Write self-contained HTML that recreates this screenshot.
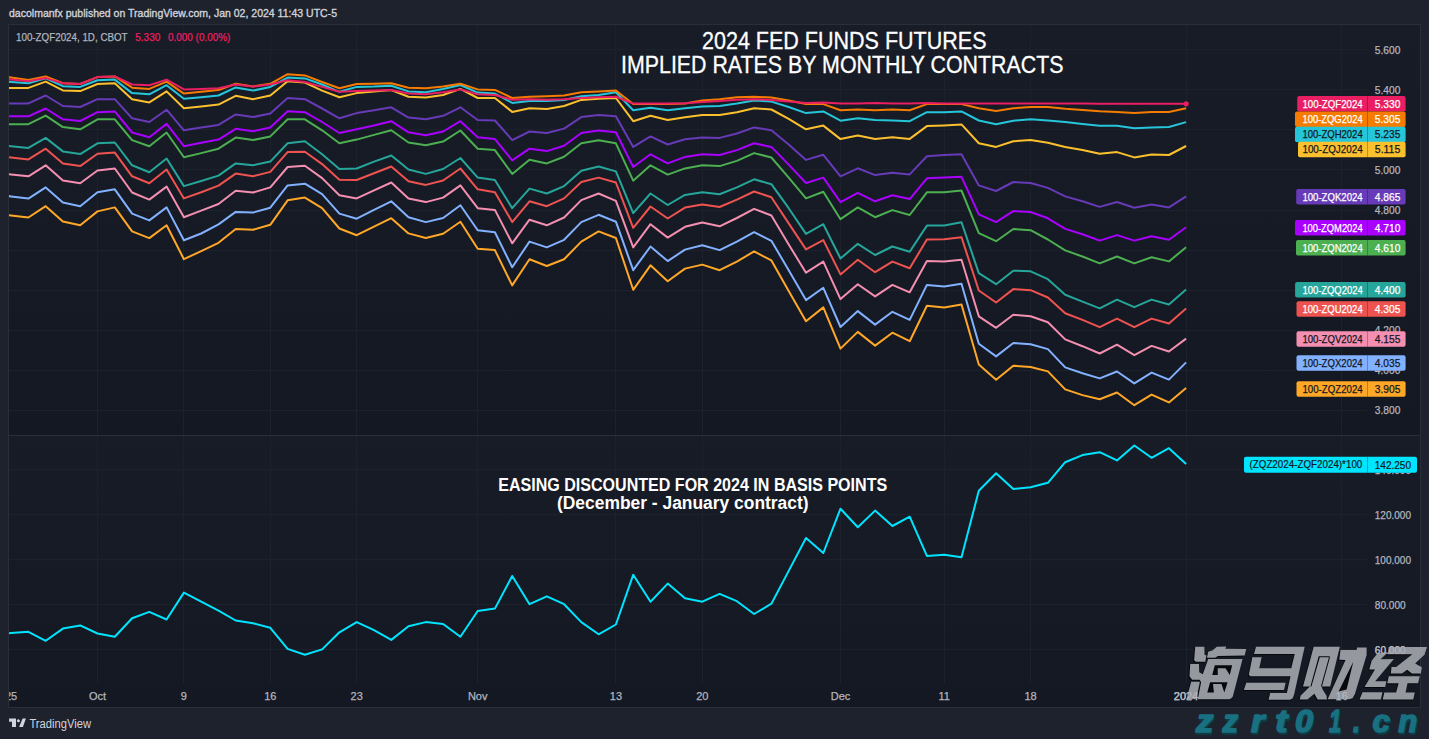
<!DOCTYPE html><html><head><meta charset="utf-8"><style>
html,body{margin:0;padding:0;background:#1e222d;width:1429px;height:739px;overflow:hidden}
svg{position:absolute;left:0;top:0}
text{font-family:"Liberation Sans",sans-serif}
.b{stroke:currentColor;stroke-width:0.3}
</style></head><body>
<svg width="1429" height="739" viewBox="0 0 1429 739">
<defs>
<linearGradient id="bg1" x1="0" y1="0" x2="0" y2="1"><stop offset="0" stop-color="#181c27"/><stop offset="1" stop-color="#141822"/></linearGradient>
<linearGradient id="bg2" x1="0" y1="0" x2="0" y2="1"><stop offset="0" stop-color="#181c27"/><stop offset="1" stop-color="#141822"/></linearGradient>
<clipPath id="c1"><rect x="9" y="25" width="1358" height="410"/></clipPath>
<clipPath id="c2"><rect x="9" y="436" width="1358" height="247"/></clipPath>
<clipPath id="c3"><rect x="9" y="683" width="1411" height="24"/></clipPath>
</defs>
<rect x="0" y="0" width="1429" height="739" fill="#1e222d"/>

<text x="9" y="17.2" font-size="11.3" fill="#d1d4dc" stroke="#d1d4dc" stroke-width="0.35" textLength="328" lengthAdjust="spacingAndGlyphs">dacolmanfx published on TradingView.com, Jan 02, 2024 11:43 UTC-5</text>
<rect x="8.5" y="24.5" width="1412" height="683" fill="none" stroke="#2a2e39" stroke-width="1"/>
<rect x="9" y="25" width="1411" height="410" fill="url(#bg1)"/>
<rect x="9" y="436" width="1411" height="271" fill="url(#bg2)"/>
<rect x="9" y="435" width="1411" height="1" fill="#2a2e39"/>
<line x1="9" y1="49.5" x2="1367" y2="49.5" stroke="#1d212c" stroke-width="1"/>
<line x1="9" y1="89.5" x2="1367" y2="89.5" stroke="#1d212c" stroke-width="1"/>
<line x1="9" y1="129.5" x2="1367" y2="129.5" stroke="#1d212c" stroke-width="1"/>
<line x1="9" y1="169.5" x2="1367" y2="169.5" stroke="#1d212c" stroke-width="1"/>
<line x1="9" y1="210.5" x2="1367" y2="210.5" stroke="#1d212c" stroke-width="1"/>
<line x1="9" y1="250.5" x2="1367" y2="250.5" stroke="#1d212c" stroke-width="1"/>
<line x1="9" y1="290.5" x2="1367" y2="290.5" stroke="#1d212c" stroke-width="1"/>
<line x1="9" y1="330.5" x2="1367" y2="330.5" stroke="#1d212c" stroke-width="1"/>
<line x1="9" y1="370.5" x2="1367" y2="370.5" stroke="#1d212c" stroke-width="1"/>
<line x1="9" y1="410.5" x2="1367" y2="410.5" stroke="#1d212c" stroke-width="1"/>
<line x1="9" y1="469.5" x2="1367" y2="469.5" stroke="#1d212c" stroke-width="1"/>
<line x1="9" y1="514.5" x2="1367" y2="514.5" stroke="#1d212c" stroke-width="1"/>
<line x1="9" y1="559.5" x2="1367" y2="559.5" stroke="#1d212c" stroke-width="1"/>
<line x1="9" y1="604.5" x2="1367" y2="604.5" stroke="#1d212c" stroke-width="1"/>
<line x1="9" y1="649.5" x2="1367" y2="649.5" stroke="#1d212c" stroke-width="1"/>
<line x1="97.5" y1="25" x2="97.5" y2="435" stroke="#1d212c" stroke-width="1" clip-path="url(#c1)"/>
<line x1="97.5" y1="436" x2="97.5" y2="683" stroke="#1d212c" stroke-width="1" clip-path="url(#c2)"/>
<line x1="183.5" y1="25" x2="183.5" y2="435" stroke="#1d212c" stroke-width="1" clip-path="url(#c1)"/>
<line x1="183.5" y1="436" x2="183.5" y2="683" stroke="#1d212c" stroke-width="1" clip-path="url(#c2)"/>
<line x1="270.5" y1="25" x2="270.5" y2="435" stroke="#1d212c" stroke-width="1" clip-path="url(#c1)"/>
<line x1="270.5" y1="436" x2="270.5" y2="683" stroke="#1d212c" stroke-width="1" clip-path="url(#c2)"/>
<line x1="356.5" y1="25" x2="356.5" y2="435" stroke="#1d212c" stroke-width="1" clip-path="url(#c1)"/>
<line x1="356.5" y1="436" x2="356.5" y2="683" stroke="#1d212c" stroke-width="1" clip-path="url(#c2)"/>
<line x1="477.5" y1="25" x2="477.5" y2="435" stroke="#1d212c" stroke-width="1" clip-path="url(#c1)"/>
<line x1="477.5" y1="436" x2="477.5" y2="683" stroke="#1d212c" stroke-width="1" clip-path="url(#c2)"/>
<line x1="615.5" y1="25" x2="615.5" y2="435" stroke="#1d212c" stroke-width="1" clip-path="url(#c1)"/>
<line x1="615.5" y1="436" x2="615.5" y2="683" stroke="#1d212c" stroke-width="1" clip-path="url(#c2)"/>
<line x1="702.5" y1="25" x2="702.5" y2="435" stroke="#1d212c" stroke-width="1" clip-path="url(#c1)"/>
<line x1="702.5" y1="436" x2="702.5" y2="683" stroke="#1d212c" stroke-width="1" clip-path="url(#c2)"/>
<line x1="840.5" y1="25" x2="840.5" y2="435" stroke="#1d212c" stroke-width="1" clip-path="url(#c1)"/>
<line x1="840.5" y1="436" x2="840.5" y2="683" stroke="#1d212c" stroke-width="1" clip-path="url(#c2)"/>
<line x1="944.5" y1="25" x2="944.5" y2="435" stroke="#1d212c" stroke-width="1" clip-path="url(#c1)"/>
<line x1="944.5" y1="436" x2="944.5" y2="683" stroke="#1d212c" stroke-width="1" clip-path="url(#c2)"/>
<line x1="1030.5" y1="25" x2="1030.5" y2="435" stroke="#1d212c" stroke-width="1" clip-path="url(#c1)"/>
<line x1="1030.5" y1="436" x2="1030.5" y2="683" stroke="#1d212c" stroke-width="1" clip-path="url(#c2)"/>
<line x1="1186.5" y1="25" x2="1186.5" y2="435" stroke="#1d212c" stroke-width="1" clip-path="url(#c1)"/>
<line x1="1186.5" y1="436" x2="1186.5" y2="683" stroke="#1d212c" stroke-width="1" clip-path="url(#c2)"/>
<line x1="1341.5" y1="25" x2="1341.5" y2="435" stroke="#1d212c" stroke-width="1" clip-path="url(#c1)"/>
<line x1="1341.5" y1="436" x2="1341.5" y2="683" stroke="#1d212c" stroke-width="1" clip-path="url(#c2)"/>
<text x="11.1" y="700" font-size="11" fill="#b2b5be" stroke="#b2b5be" stroke-width="0.25" text-anchor="middle" clip-path="url(#c3)">25</text>
<text x="97.5" y="700" font-size="11" fill="#b2b5be" stroke="#b2b5be" stroke-width="0.25" text-anchor="middle" clip-path="url(#c3)">Oct</text>
<text x="183.9" y="700" font-size="11" fill="#b2b5be" stroke="#b2b5be" stroke-width="0.25" text-anchor="middle" clip-path="url(#c3)">9</text>
<text x="270.3" y="700" font-size="11" fill="#b2b5be" stroke="#b2b5be" stroke-width="0.25" text-anchor="middle" clip-path="url(#c3)">16</text>
<text x="356.7" y="700" font-size="11" fill="#b2b5be" stroke="#b2b5be" stroke-width="0.25" text-anchor="middle" clip-path="url(#c3)">23</text>
<text x="477.7" y="700" font-size="11" fill="#b2b5be" stroke="#b2b5be" stroke-width="0.25" text-anchor="middle" clip-path="url(#c3)">Nov</text>
<text x="615.9" y="700" font-size="11" fill="#b2b5be" stroke="#b2b5be" stroke-width="0.25" text-anchor="middle" clip-path="url(#c3)">13</text>
<text x="702.3" y="700" font-size="11" fill="#b2b5be" stroke="#b2b5be" stroke-width="0.25" text-anchor="middle" clip-path="url(#c3)">20</text>
<text x="840.5" y="700" font-size="11" fill="#b2b5be" stroke="#b2b5be" stroke-width="0.25" text-anchor="middle" clip-path="url(#c3)">Dec</text>
<text x="944.2" y="700" font-size="11" fill="#b2b5be" stroke="#b2b5be" stroke-width="0.25" text-anchor="middle" clip-path="url(#c3)">11</text>
<text x="1030.6" y="700" font-size="11" fill="#b2b5be" stroke="#b2b5be" stroke-width="0.25" text-anchor="middle" clip-path="url(#c3)">18</text>
<text x="1186.1" y="700" font-size="11" fill="#b2b5be" stroke="#b2b5be" stroke-width="0.25" text-anchor="middle" clip-path="url(#c3)">2024</text>
<text x="1341.7" y="700" font-size="11" fill="#b2b5be" stroke="#b2b5be" stroke-width="0.25" text-anchor="middle" clip-path="url(#c3)">16</text>
<g clip-path="url(#c1)" fill="none" stroke-width="2" stroke-linejoin="round">
<polyline points="-6.2,213.5 11.1,215.5 28.4,217.5 45.7,206.2 62.9,221.4 80.2,225.3 97.5,211.4 114.8,207.4 132.1,231.4 149.3,238.1 166.6,225.3 183.9,259.2 201.2,251.1 218.5,242.8 235.7,229.0 253.0,229.7 270.3,224.8 287.6,200.3 304.9,197.6 322.1,208.2 339.4,228.5 356.7,235.2 374.0,226.7 391.3,218.2 408.5,233.4 425.8,238.0 443.1,233.7 460.4,221.7 477.7,248.7 494.9,250.1 512.2,285.4 529.5,259.2 546.8,266.0 564.1,259.2 581.3,241.6 598.6,231.4 615.9,238.0 633.2,289.8 650.5,265.3 667.7,281.2 685.0,268.6 702.3,264.6 719.6,270.2 736.9,261.6 754.1,251.4 771.4,260.4 788.7,291.0 806.0,321.2 823.3,307.4 840.5,348.6 857.8,331.9 875.1,345.6 892.4,332.7 909.7,341.2 926.9,305.7 944.2,307.4 961.5,304.5 978.8,364.5 996.1,379.7 1013.3,365.7 1030.6,367.0 1047.9,371.4 1065.2,389.4 1082.5,395.1 1099.7,399.2 1117.0,392.5 1134.3,405.2 1151.6,394.6 1168.9,402.4 1186.1,388.1" stroke="#ffa726"/>
<polyline points="-6.2,194.2 11.1,196.4 28.4,198.6 45.7,187.4 62.9,202.5 80.2,206.2 97.5,192.3 114.8,189.3 132.1,213.6 149.3,220.4 166.6,207.4 183.9,240.3 201.2,233.5 218.5,224.4 235.7,211.9 253.0,212.6 270.3,207.7 287.6,185.4 304.9,183.7 322.1,194.2 339.4,213.6 356.7,218.7 374.0,209.9 391.3,201.3 408.5,217.2 425.8,222.1 443.1,218.0 460.4,205.2 477.7,230.2 494.9,232.2 512.2,267.3 529.5,241.6 546.8,247.4 564.1,239.8 581.3,222.1 598.6,214.8 615.9,221.7 633.2,270.2 650.5,246.5 667.7,261.1 685.0,249.6 702.3,245.2 719.6,250.1 736.9,241.6 754.1,232.2 771.4,240.8 788.7,270.2 806.0,300.1 823.3,287.8 840.5,327.0 857.8,311.1 875.1,324.6 892.4,311.8 909.7,319.9 926.9,284.9 944.2,286.6 961.5,283.7 978.8,343.7 996.1,356.4 1013.3,343.0 1030.6,344.3 1047.9,349.1 1065.2,367.4 1082.5,373.2 1099.7,378.4 1117.0,371.5 1134.3,383.4 1151.6,372.6 1168.9,379.6 1186.1,362.4" stroke="#82b1ff"/>
<polyline points="-6.2,172.5 11.1,174.4 28.4,176.3 45.7,165.3 62.9,180.5 80.2,183.2 97.5,170.5 114.8,168.5 132.1,192.5 149.3,199.6 166.6,186.6 183.9,217.2 201.2,210.6 218.5,204.0 235.7,190.8 253.0,192.5 270.3,187.4 287.6,167.0 304.9,165.8 322.1,178.1 339.4,195.2 356.7,198.4 374.0,190.3 391.3,182.5 408.5,198.4 425.8,202.1 443.1,197.6 460.4,185.4 477.7,208.2 494.9,209.9 512.2,243.3 529.5,219.7 546.8,225.3 564.1,217.5 581.3,200.1 598.6,193.5 615.9,200.8 633.2,247.4 650.5,224.2 667.7,237.6 685.0,226.8 702.3,222.5 719.6,226.3 736.9,218.0 754.1,208.9 771.4,215.5 788.7,244.5 806.0,272.7 823.3,261.6 840.5,299.1 857.8,284.2 875.1,296.4 892.4,284.9 909.7,292.3 926.9,261.1 944.2,261.6 961.5,259.7 978.8,316.3 996.1,327.8 1013.3,314.8 1030.6,316.2 1047.9,322.3 1065.2,339.4 1082.5,346.2 1099.7,353.5 1117.0,344.7 1134.3,355.2 1151.6,345.9 1168.9,351.5 1186.1,338.6" stroke="#f48fb1"/>
<polyline points="-6.2,155.6 11.1,157.5 28.4,159.4 45.7,148.7 62.9,163.4 80.2,166.1 97.5,153.8 114.8,152.6 132.1,176.3 149.3,183.2 166.6,169.5 183.9,198.4 201.2,192.3 218.5,185.6 235.7,173.6 253.0,176.3 270.3,171.9 287.6,152.1 304.9,151.8 322.1,164.1 339.4,179.8 356.7,180.0 374.0,173.2 391.3,166.5 408.5,181.2 425.8,184.9 443.1,180.5 460.4,168.5 477.7,189.3 494.9,192.3 512.2,222.1 529.5,201.3 546.8,206.2 564.1,198.4 581.3,182.0 598.6,177.6 615.9,182.5 633.2,227.8 650.5,206.5 667.7,218.5 685.0,207.6 702.3,204.5 719.6,207.0 736.9,199.6 754.1,191.5 771.4,197.2 788.7,223.4 806.0,249.4 823.3,240.1 840.5,274.4 857.8,259.7 875.1,272.2 892.4,261.6 909.7,268.3 926.9,239.4 944.2,239.2 961.5,237.2 978.8,290.5 996.1,302.5 1013.3,289.1 1030.6,290.2 1047.9,297.5 1065.2,313.3 1082.5,319.9 1099.7,327.2 1117.0,318.6 1134.3,327.2 1151.6,318.6 1168.9,323.5 1186.1,308.4" stroke="#ef5350"/>
<polyline points="-6.2,144.5 11.1,146.2 28.4,147.9 45.7,137.9 62.9,151.4 80.2,154.1 97.5,143.3 114.8,142.5 132.1,165.3 149.3,172.2 166.6,158.5 183.9,186.1 201.2,181.0 218.5,175.6 235.7,163.4 253.0,165.3 270.3,161.6 287.6,143.3 304.9,141.3 322.1,154.3 339.4,169.0 356.7,168.5 374.0,161.6 391.3,155.5 408.5,169.5 425.8,173.9 443.1,169.0 460.4,158.0 477.7,177.6 494.9,180.0 512.2,208.2 529.5,188.6 546.8,193.5 564.1,186.1 581.3,170.7 598.6,166.5 615.9,171.4 633.2,213.1 650.5,193.5 667.7,205.0 685.0,194.9 702.3,192.3 719.6,194.2 736.9,187.4 754.1,179.3 771.4,184.2 788.7,208.2 806.0,233.9 823.3,224.2 840.5,258.5 857.8,243.8 875.1,255.0 892.4,246.5 909.7,251.8 926.9,225.6 944.2,225.6 961.5,222.2 978.8,273.1 996.1,284.2 1013.3,270.7 1030.6,271.3 1047.9,279.2 1065.2,294.8 1082.5,301.6 1099.7,308.4 1117.0,299.6 1134.3,307.2 1151.6,299.6 1168.9,304.5 1186.1,289.4" stroke="#26a69a"/>
<polyline points="-6.2,124.2 11.1,124.2 28.4,124.2 45.7,115.6 62.9,127.1 80.2,129.3 97.5,119.3 114.8,119.3 132.1,140.1 149.3,146.2 166.6,132.5 183.9,157.2 201.2,153.1 218.5,148.7 235.7,137.6 253.0,140.1 270.3,136.4 287.6,119.3 304.9,119.3 322.1,130.3 339.4,143.3 356.7,139.6 374.0,134.9 391.3,130.3 408.5,142.5 425.8,145.2 443.1,141.6 460.4,130.5 477.7,148.7 494.9,150.1 512.2,173.9 529.5,159.7 546.8,163.4 564.1,156.7 581.3,143.3 598.6,140.3 615.9,143.3 633.2,180.7 650.5,165.3 667.7,174.6 685.0,168.4 702.3,165.3 719.6,166.1 736.9,160.9 754.1,153.1 771.4,157.5 788.7,177.6 806.0,198.4 823.3,191.8 840.5,219.2 857.8,207.4 875.1,217.2 892.4,210.1 909.7,215.0 926.9,192.3 944.2,192.3 961.5,190.5 978.8,233.2 996.1,241.2 1013.3,229.0 1030.6,230.2 1047.9,239.5 1065.2,250.4 1082.5,256.5 1099.7,263.4 1117.0,256.5 1134.3,263.4 1151.6,257.3 1168.9,261.4 1186.1,247.3" stroke="#4caf50"/>
<polyline points="-6.2,116.3 11.1,116.3 28.4,116.3 45.7,108.5 62.9,119.3 80.2,121.0 97.5,112.2 114.8,111.4 132.1,132.5 149.3,137.2 166.6,123.9 183.9,146.2 201.2,142.8 218.5,139.6 235.7,128.8 253.0,131.3 270.3,127.4 287.6,111.2 304.9,112.2 322.1,122.0 339.4,133.0 356.7,129.3 374.0,125.4 391.3,121.2 408.5,132.3 425.8,135.2 443.1,131.5 460.4,121.2 477.7,137.2 494.9,139.1 512.2,160.4 529.5,148.7 546.8,151.1 564.1,145.7 581.3,133.0 598.6,130.5 615.9,132.3 633.2,167.0 650.5,154.3 667.7,163.4 685.0,156.9 702.3,154.3 719.6,155.0 736.9,150.1 754.1,143.3 771.4,146.9 788.7,164.6 806.0,183.0 823.3,177.6 840.5,202.1 857.8,192.8 875.1,201.3 892.4,195.2 909.7,199.1 926.9,178.3 944.2,177.6 961.5,176.8 978.8,214.3 996.1,222.1 1013.3,211.1 1030.6,212.0 1047.9,218.3 1065.2,228.9 1082.5,234.2 1099.7,240.6 1117.0,235.1 1134.3,240.6 1151.6,236.2 1168.9,239.8 1186.1,227.3" stroke="#aa00ff"/>
<polyline points="-6.2,103.4 11.1,103.4 28.4,103.4 45.7,95.5 62.9,106.0 80.2,107.0 97.5,99.2 114.8,99.2 132.1,118.3 149.3,122.0 166.6,109.7 183.9,130.3 201.2,127.6 218.5,124.9 235.7,114.4 253.0,117.1 270.3,113.4 287.6,98.0 304.9,99.2 322.1,108.5 339.4,118.3 356.7,113.1 374.0,110.2 391.3,107.3 408.5,117.6 425.8,119.3 443.1,115.8 460.4,107.3 477.7,120.0 494.9,120.5 512.2,140.1 529.5,131.5 546.8,133.0 564.1,128.6 581.3,117.1 598.6,115.1 615.9,116.3 633.2,146.9 650.5,136.4 667.7,144.5 685.0,139.2 702.3,137.6 719.6,137.9 736.9,133.5 754.1,127.4 771.4,130.3 788.7,144.5 806.0,159.9 823.3,154.8 840.5,176.3 857.8,168.3 875.1,175.1 892.4,172.7 909.7,174.4 926.9,156.3 944.2,155.0 961.5,154.3 978.8,185.4 996.1,191.0 1013.3,182.0 1030.6,183.0 1047.9,187.9 1065.2,196.4 1082.5,201.3 1099.7,206.9 1117.0,202.0 1134.3,207.8 1151.6,204.4 1168.9,207.4 1186.1,196.4" stroke="#673ab7"/>
<polyline points="-6.2,87.9 11.1,87.9 28.4,87.9 45.7,81.6 62.9,90.4 80.2,91.1 97.5,84.0 114.8,83.3 132.1,99.2 149.3,102.4 166.6,91.4 183.9,108.3 201.2,106.5 218.5,104.6 235.7,95.8 253.0,99.2 270.3,95.5 287.6,81.3 304.9,82.5 322.1,90.6 339.4,97.2 356.7,93.1 374.0,91.4 391.3,90.1 408.5,96.7 425.8,97.5 443.1,95.0 460.4,88.9 477.7,98.0 494.9,98.0 512.2,111.9 529.5,108.3 546.8,109.0 564.1,106.0 581.3,99.9 598.6,98.7 615.9,98.0 633.2,121.2 650.5,115.8 667.7,120.0 685.0,117.2 702.3,115.1 719.6,115.1 736.9,112.2 754.1,108.3 771.4,109.5 788.7,118.8 806.0,129.3 823.3,125.6 840.5,139.1 857.8,135.4 875.1,138.9 892.4,137.2 909.7,138.9 926.9,126.1 944.2,125.4 961.5,124.4 978.8,143.3 996.1,146.9 1013.3,141.3 1030.6,140.1 1047.9,142.8 1065.2,147.0 1082.5,150.1 1099.7,153.8 1117.0,152.1 1134.3,157.4 1151.6,154.5 1168.9,155.0 1186.1,146.0" stroke="#fbc02d"/>
<polyline points="-6.2,80.7 11.1,82.0 28.4,83.3 45.7,78.4 62.9,86.2 80.2,86.9 97.5,80.3 114.8,79.6 132.1,93.1 149.3,94.3 166.6,85.2 183.9,98.7 201.2,97.2 218.5,95.5 235.7,87.4 253.0,90.6 270.3,86.9 287.6,77.6 304.9,78.4 322.1,84.5 339.4,91.8 356.7,86.9 374.0,86.5 391.3,85.7 408.5,91.4 425.8,92.3 443.1,88.9 460.4,85.0 477.7,92.6 494.9,93.6 512.2,102.9 529.5,100.9 546.8,101.1 564.1,99.9 581.3,96.2 598.6,95.0 615.9,92.3 633.2,110.2 650.5,107.8 667.7,110.2 685.0,108.3 702.3,106.5 719.6,106.0 736.9,103.4 754.1,100.4 771.4,101.6 788.7,107.0 806.0,113.1 823.3,111.4 840.5,120.7 857.8,118.3 875.1,120.0 892.4,120.5 909.7,121.2 926.9,112.2 944.2,112.2 961.5,111.4 978.8,120.5 996.1,124.2 1013.3,120.7 1030.6,119.2 1047.9,120.4 1065.2,122.1 1082.5,124.1 1099.7,125.8 1117.0,125.8 1134.3,128.2 1151.6,127.5 1168.9,127.0 1186.1,122.1" stroke="#26c6da"/>
<polyline points="-6.2,75.1 11.1,77.6 28.4,80.1 45.7,76.4 62.9,83.3 80.2,84.0 97.5,77.1 114.8,76.4 132.1,87.7 149.3,88.9 166.6,81.6 183.9,93.6 201.2,91.8 218.5,90.1 235.7,83.8 253.0,86.5 270.3,83.8 287.6,74.2 304.9,75.4 322.1,82.0 339.4,88.2 356.7,84.0 374.0,83.8 391.3,83.3 408.5,87.7 425.8,88.2 443.1,86.5 460.4,83.8 477.7,89.4 494.9,89.9 512.2,98.0 529.5,96.7 546.8,96.2 564.1,95.5 581.3,92.3 598.6,91.4 615.9,90.6 633.2,104.0 650.5,104.0 667.7,104.0 685.0,103.6 702.3,100.4 719.6,99.2 736.9,97.2 754.1,96.7 771.4,97.5 788.7,100.4 806.0,104.1 823.3,104.1 840.5,110.2 857.8,109.5 875.1,110.2 892.4,109.5 909.7,110.2 926.9,104.1 944.2,104.1 961.5,104.1 978.8,108.3 996.1,110.9 1013.3,108.3 1030.6,107.0 1047.9,107.0 1065.2,108.7 1082.5,109.9 1099.7,111.2 1117.0,111.9 1134.3,113.1 1151.6,111.9 1168.9,111.9 1186.1,108.2" stroke="#f57c00"/>
<polyline points="-6.2,77.9 11.1,79.6 28.4,81.3 45.7,78.1 62.9,83.3 80.2,84.0 97.5,77.1 114.8,76.4 132.1,84.5 149.3,85.2 166.6,79.6 183.9,89.4 201.2,88.9 218.5,88.2 235.7,84.5 253.0,86.5 270.3,84.5 287.6,80.3 304.9,82.0 322.1,86.9 339.4,91.8 356.7,91.1 374.0,90.6 391.3,89.9 408.5,93.6 425.8,94.3 443.1,92.3 460.4,89.4 477.7,94.3 494.9,95.0 512.2,99.7 529.5,99.2 546.8,99.7 564.1,99.2 581.3,98.0 598.6,97.2 615.9,96.7 633.2,103.6 650.5,103.6 667.7,103.6 685.0,103.2 702.3,102.1 719.6,101.1 736.9,99.7 754.1,99.2 771.4,99.9 788.7,101.6 806.0,102.9 823.3,102.4 840.5,103.4 857.8,103.4 875.1,102.9 892.4,103.6 909.7,103.4 926.9,102.9 944.2,103.4 961.5,103.4 978.8,103.4 996.1,103.6 1013.3,103.6 1030.6,103.5 1047.9,103.4 1065.2,103.4 1082.5,103.4 1099.7,103.8 1117.0,103.8 1134.3,103.8 1151.6,103.8 1168.9,103.8 1186.1,103.8" stroke="#e91e63"/>
<circle cx="1186.1" cy="103.8" r="2.6" fill="#e91e63"/>
</g>
<g clip-path="url(#c2)" fill="none" stroke-width="2" stroke-linejoin="round">
<polyline points="-6.2,634.2 11.1,633.0 28.4,631.8 45.7,640.8 62.9,628.6 80.2,625.4 97.5,633.5 114.8,636.7 132.1,618.3 149.3,611.9 166.6,619.5 183.9,592.6 201.2,601.6 218.5,610.7 235.7,620.5 253.0,623.2 270.3,627.8 287.6,648.9 304.9,654.8 322.1,649.4 339.4,632.3 356.7,622.1 374.0,630.1 391.3,639.9 408.5,626.2 425.8,622.1 443.1,624.0 460.4,636.7 477.7,611.0 494.9,608.6 512.2,576.0 529.5,604.2 546.8,596.3 564.1,604.2 581.3,622.1 598.6,634.3 615.9,624.5 633.2,574.8 650.5,601.7 667.7,583.6 685.0,598.3 702.3,601.7 719.6,593.9 736.9,601.2 754.1,614.0 771.4,603.7 788.7,570.9 806.0,538.0 823.3,553.0 840.5,508.7 857.8,527.3 875.1,510.6 892.4,526.0 909.7,516.7 926.9,555.9 944.2,554.7 961.5,557.2 978.8,490.7 996.1,473.3 1013.3,489.1 1030.6,487.3 1047.9,482.8 1065.2,462.2 1082.5,455.1 1099.7,452.2 1117.0,460.4 1134.3,445.5 1151.6,457.8 1168.9,448.2 1186.1,464.0" stroke="#00e5ff"/>
</g>
<text x="16" y="41" font-size="11" fill="#b2b5be" stroke="#b2b5be" stroke-width="0.25" textLength="111.6" lengthAdjust="spacingAndGlyphs">100-ZQF2024, 1D, CBOT</text>
<text x="135.2" y="41" font-size="11" fill="#e91e63" stroke="#e91e63" stroke-width="0.25" textLength="25.2" lengthAdjust="spacingAndGlyphs">5.330</text>
<text x="168" y="41" font-size="11" fill="#e91e63" stroke="#e91e63" stroke-width="0.25" textLength="62.4" lengthAdjust="spacingAndGlyphs">0.000 (0.00%)</text>
<text x="702" y="48.5" font-size="23.5" fill="#ffffff" stroke="#ffffff" stroke-width="0.3" textLength="284.5" lengthAdjust="spacingAndGlyphs">2024 FED FUNDS FUTURES</text>
<text x="621" y="73" font-size="23.5" fill="#ffffff" stroke="#ffffff" stroke-width="0.3" textLength="442.5" lengthAdjust="spacingAndGlyphs">IMPLIED RATES BY MONTHLY CONTRACTS</text>
<text x="498.2" y="491" font-size="17.5" font-weight="bold" fill="#ffffff" textLength="389" lengthAdjust="spacingAndGlyphs">EASING DISCOUNTED FOR 2024 IN BASIS POINTS</text>
<text x="557" y="508.5" font-size="17.5" font-weight="bold" fill="#ffffff" textLength="251.6" lengthAdjust="spacingAndGlyphs">(December - January contract)</text>
<text x="1374.8" y="53.5" font-size="10.6" fill="#b2b5be" stroke="#b2b5be" stroke-width="0.25" textLength="25.5" lengthAdjust="spacingAndGlyphs">5.600</text>
<text x="1374.8" y="93.5" font-size="10.6" fill="#b2b5be" stroke="#b2b5be" stroke-width="0.25" textLength="25.5" lengthAdjust="spacingAndGlyphs">5.400</text>
<text x="1374.8" y="173.5" font-size="10.6" fill="#b2b5be" stroke="#b2b5be" stroke-width="0.25" textLength="25.5" lengthAdjust="spacingAndGlyphs">5.000</text>
<text x="1374.8" y="213.5" font-size="10.6" fill="#b2b5be" stroke="#b2b5be" stroke-width="0.25" textLength="25.5" lengthAdjust="spacingAndGlyphs">4.800</text>
<text x="1374.8" y="333.5" font-size="10.6" fill="#b2b5be" stroke="#b2b5be" stroke-width="0.25" textLength="25.5" lengthAdjust="spacingAndGlyphs">4.200</text>
<text x="1374.8" y="373.5" font-size="10.6" fill="#b2b5be" stroke="#b2b5be" stroke-width="0.25" textLength="25.5" lengthAdjust="spacingAndGlyphs">4.000</text>
<text x="1374.8" y="413.5" font-size="10.6" fill="#b2b5be" stroke="#b2b5be" stroke-width="0.25" textLength="25.5" lengthAdjust="spacingAndGlyphs">3.800</text>
<text x="1374.8" y="473.5" font-size="10.6" fill="#b2b5be" stroke="#b2b5be" stroke-width="0.25" textLength="36.2" lengthAdjust="spacingAndGlyphs">140.000</text>
<text x="1374.8" y="518.5" font-size="10.6" fill="#b2b5be" stroke="#b2b5be" stroke-width="0.25" textLength="36.2" lengthAdjust="spacingAndGlyphs">120.000</text>
<text x="1374.8" y="563.5" font-size="10.6" fill="#b2b5be" stroke="#b2b5be" stroke-width="0.25" textLength="36.2" lengthAdjust="spacingAndGlyphs">100.000</text>
<text x="1374.8" y="608.5" font-size="10.6" fill="#b2b5be" stroke="#b2b5be" stroke-width="0.25" textLength="30.9" lengthAdjust="spacingAndGlyphs">80.000</text>
<text x="1374.8" y="653.5" font-size="10.6" fill="#b2b5be" stroke="#b2b5be" stroke-width="0.25" textLength="30.9" lengthAdjust="spacingAndGlyphs">60.000</text>
<rect x="1297.2" y="96" width="108.4" height="15.5" rx="2" fill="#e91e63"/>
<rect x="1367" y="96" width="1" height="15.5" fill="rgba(0,0,0,0.25)"/>
<text x="1362.7" y="107.5" font-size="10.6" fill="#fff" stroke="#fff" stroke-width="0.25" text-anchor="end" textLength="60.3" lengthAdjust="spacingAndGlyphs">100-ZQF2024</text>
<text x="1374.8" y="107.5" font-size="10.6" fill="#fff" stroke="#fff" stroke-width="0.25" textLength="25.5" lengthAdjust="spacingAndGlyphs">5.330</text>
<rect x="1295" y="111.6" width="110.6" height="15.5" rx="2" fill="#f57c00"/>
<rect x="1367" y="111.6" width="1" height="15.5" fill="rgba(0,0,0,0.25)"/>
<text x="1362.7" y="123.1" font-size="10.6" fill="#fff" stroke="#fff" stroke-width="0.25" text-anchor="end" textLength="60.3" lengthAdjust="spacingAndGlyphs">100-ZQG2024</text>
<text x="1374.8" y="123.1" font-size="10.6" fill="#fff" stroke="#fff" stroke-width="0.25" textLength="25.5" lengthAdjust="spacingAndGlyphs">5.305</text>
<rect x="1295" y="126.8" width="110.6" height="15.5" rx="2" fill="#26c6da"/>
<rect x="1367" y="126.8" width="1" height="15.5" fill="rgba(0,0,0,0.25)"/>
<text x="1362.7" y="138.3" font-size="10.6" fill="#131722" stroke="#131722" stroke-width="0.25" text-anchor="end" textLength="60.3" lengthAdjust="spacingAndGlyphs">100-ZQH2024</text>
<text x="1374.8" y="138.3" font-size="10.6" fill="#131722" stroke="#131722" stroke-width="0.25" textLength="25.5" lengthAdjust="spacingAndGlyphs">5.235</text>
<rect x="1298" y="141.7" width="107.6" height="15.5" rx="2" fill="#fbc02d"/>
<rect x="1367" y="141.7" width="1" height="15.5" fill="rgba(0,0,0,0.25)"/>
<text x="1362.7" y="153.2" font-size="10.6" fill="#131722" stroke="#131722" stroke-width="0.25" text-anchor="end" textLength="60.3" lengthAdjust="spacingAndGlyphs">100-ZQJ2024</text>
<text x="1374.8" y="153.2" font-size="10.6" fill="#131722" stroke="#131722" stroke-width="0.25" textLength="25.5" lengthAdjust="spacingAndGlyphs">5.115</text>
<rect x="1296.2" y="189" width="109.4" height="15.5" rx="2" fill="#673ab7"/>
<rect x="1367" y="189" width="1" height="15.5" fill="rgba(0,0,0,0.25)"/>
<text x="1362.7" y="200.5" font-size="10.6" fill="#fff" stroke="#fff" stroke-width="0.25" text-anchor="end" textLength="60.3" lengthAdjust="spacingAndGlyphs">100-ZQK2024</text>
<text x="1374.8" y="200.5" font-size="10.6" fill="#fff" stroke="#fff" stroke-width="0.25" textLength="25.5" lengthAdjust="spacingAndGlyphs">4.865</text>
<rect x="1295" y="220" width="110.6" height="15.5" rx="2" fill="#aa00ff"/>
<rect x="1367" y="220" width="1" height="15.5" fill="rgba(0,0,0,0.25)"/>
<text x="1362.7" y="231.5" font-size="10.6" fill="#fff" stroke="#fff" stroke-width="0.25" text-anchor="end" textLength="60.3" lengthAdjust="spacingAndGlyphs">100-ZQM2024</text>
<text x="1374.8" y="231.5" font-size="10.6" fill="#fff" stroke="#fff" stroke-width="0.25" textLength="25.5" lengthAdjust="spacingAndGlyphs">4.710</text>
<rect x="1296" y="240" width="109.6" height="15.5" rx="2" fill="#4caf50"/>
<rect x="1367" y="240" width="1" height="15.5" fill="rgba(0,0,0,0.25)"/>
<text x="1362.7" y="251.5" font-size="10.6" fill="#fff" stroke="#fff" stroke-width="0.25" text-anchor="end" textLength="60.3" lengthAdjust="spacingAndGlyphs">100-ZQN2024</text>
<text x="1374.8" y="251.5" font-size="10.6" fill="#fff" stroke="#fff" stroke-width="0.25" textLength="25.5" lengthAdjust="spacingAndGlyphs">4.610</text>
<rect x="1295.1" y="282" width="110.5" height="15.5" rx="2" fill="#26a69a"/>
<rect x="1367" y="282" width="1" height="15.5" fill="rgba(0,0,0,0.25)"/>
<text x="1362.7" y="293.5" font-size="10.6" fill="#fff" stroke="#fff" stroke-width="0.25" text-anchor="end" textLength="60.3" lengthAdjust="spacingAndGlyphs">100-ZQQ2024</text>
<text x="1374.8" y="293.5" font-size="10.6" fill="#fff" stroke="#fff" stroke-width="0.25" textLength="25.5" lengthAdjust="spacingAndGlyphs">4.400</text>
<rect x="1296.5" y="301.2" width="109.1" height="15.5" rx="2" fill="#ef5350"/>
<rect x="1367" y="301.2" width="1" height="15.5" fill="rgba(0,0,0,0.25)"/>
<text x="1362.7" y="312.7" font-size="10.6" fill="#fff" stroke="#fff" stroke-width="0.25" text-anchor="end" textLength="60.3" lengthAdjust="spacingAndGlyphs">100-ZQU2024</text>
<text x="1374.8" y="312.7" font-size="10.6" fill="#fff" stroke="#fff" stroke-width="0.25" textLength="25.5" lengthAdjust="spacingAndGlyphs">4.305</text>
<rect x="1296.5" y="331.3" width="109.1" height="15.5" rx="2" fill="#f48fb1"/>
<rect x="1367" y="331.3" width="1" height="15.5" fill="rgba(0,0,0,0.25)"/>
<text x="1362.7" y="342.8" font-size="10.6" fill="#131722" stroke="#131722" stroke-width="0.25" text-anchor="end" textLength="60.3" lengthAdjust="spacingAndGlyphs">100-ZQV2024</text>
<text x="1374.8" y="342.8" font-size="10.6" fill="#131722" stroke="#131722" stroke-width="0.25" textLength="25.5" lengthAdjust="spacingAndGlyphs">4.155</text>
<rect x="1296.5" y="355.2" width="109.1" height="15.5" rx="2" fill="#82b1ff"/>
<rect x="1367" y="355.2" width="1" height="15.5" fill="rgba(0,0,0,0.25)"/>
<text x="1362.7" y="366.7" font-size="10.6" fill="#131722" stroke="#131722" stroke-width="0.25" text-anchor="end" textLength="60.3" lengthAdjust="spacingAndGlyphs">100-ZQX2024</text>
<text x="1374.8" y="366.7" font-size="10.6" fill="#131722" stroke="#131722" stroke-width="0.25" textLength="25.5" lengthAdjust="spacingAndGlyphs">4.035</text>
<rect x="1296.5" y="381.2" width="109.1" height="15.5" rx="2" fill="#ffa726"/>
<rect x="1367" y="381.2" width="1" height="15.5" fill="rgba(0,0,0,0.25)"/>
<text x="1362.7" y="392.7" font-size="10.6" fill="#131722" stroke="#131722" stroke-width="0.25" text-anchor="end" textLength="60.3" lengthAdjust="spacingAndGlyphs">100-ZQZ2024</text>
<text x="1374.8" y="392.7" font-size="10.6" fill="#131722" stroke="#131722" stroke-width="0.25" textLength="25.5" lengthAdjust="spacingAndGlyphs">3.905</text>
<rect x="1244" y="456.7" width="173" height="16" rx="2" fill="#00e5ff"/>
<rect x="1367" y="456.7" width="1" height="16" fill="rgba(0,0,0,0.25)"/>
<text x="1249.5" y="467.6" font-size="10.6" fill="#131722" stroke="#131722" stroke-width="0.2" textLength="112.8" lengthAdjust="spacingAndGlyphs">(ZQZ2024-ZQF2024)*100</text>
<text x="1374.8" y="469" font-size="10.6" fill="#131722" stroke="#131722" stroke-width="0.2" textLength="36.2" lengthAdjust="spacingAndGlyphs">142.250</text>
<g fill="#d1d4dc"><path d="M9.1,718.5 H16 V726.9 H12 V721.8 H9.1Z"/><circle cx="18.4" cy="720.7" r="1.5"/><path d="M22.6,718.5 H25.9 L22.9,726.9 H19.1Z"/></g>
<text x="29.4" y="728.2" font-size="12.5" fill="#d1d4dc" textLength="61.6" lengthAdjust="spacingAndGlyphs">TradingView</text>
<path d="M1195.23,646.87 1204.33,646.87 1204.56,654.83 1206.38,655.51 1205.24,661.65 1195.92,661.65 1194.10,660.19Z M1208.20,651.87 1212.29,650.50 1216.84,646.64 1226.16,646.41 1225.39,648.69 1246.18,648.91 1244.68,655.51 1217.98,655.96 1215.02,657.78 1206.92,657.78Z M1190.21,664.00 1198.98,664.00 1199.21,672.29 1202.77,674.19 1208.21,659.03 1242.56,659.03 1232.80,696.40 1231.00,698.60 1229.10,699.30 1197.80,699.30 1201.10,682.20 1199.69,679.87 1192.11,679.87 1189.50,676.30Z M1214.85,665.19 1232.14,665.19 1229.77,674.90 1225.51,668.27 1217.69,668.27 1217.78,674.90 1212.24,674.90Z M1210.10,682.20 1227.60,682.20 1224.30,692.60 1221.50,684.00 1213.00,684.00 1213.90,692.60 1207.30,692.60Z M1191.20,681.70 1199.90,681.70 1196.20,699.30 1186.40,699.30Z" fill="#07080c" transform="translate(-1,1)"/>
<path d="M1195.23,646.87 1204.33,646.87 1204.56,654.83 1206.38,655.51 1205.24,661.65 1195.92,661.65 1194.10,660.19Z M1208.20,651.87 1212.29,650.50 1216.84,646.64 1226.16,646.41 1225.39,648.69 1246.18,648.91 1244.68,655.51 1217.98,655.96 1215.02,657.78 1206.92,657.78Z M1190.21,664.00 1198.98,664.00 1199.21,672.29 1202.77,674.19 1208.21,659.03 1242.56,659.03 1232.80,696.40 1231.00,698.60 1229.10,699.30 1197.80,699.30 1201.10,682.20 1199.69,679.87 1192.11,679.87 1189.50,676.30Z M1214.85,665.19 1232.14,665.19 1229.77,674.90 1225.51,668.27 1217.69,668.27 1217.78,674.90 1212.24,674.90Z M1210.10,682.20 1227.60,682.20 1224.30,692.60 1221.50,684.00 1213.00,684.00 1213.90,692.60 1207.30,692.60Z M1191.20,681.70 1199.90,681.70 1196.20,699.30 1186.40,699.30Z" fill="#95989f" fill-rule="evenodd"/>
<path d="M1255.98,646.65 1304.67,646.65 1294.12,694.53 1292.66,698.18 1290.07,699.80 1268.56,699.80 1270.18,692.91 1286.82,692.91 1290.47,676.27 1250.30,676.27 1248.84,674.65 1252.33,657.20 1261.66,657.20 1259.23,668.16 1291.28,668.16 1294.69,653.96 1253.96,653.96Z M1246.25,682.76 1285.60,682.76 1283.98,690.07 1243.81,690.07Z" fill="#07080c" transform="translate(-1,1)"/>
<path d="M1255.98,646.65 1304.67,646.65 1294.12,694.53 1292.66,698.18 1290.07,699.80 1268.56,699.80 1270.18,692.91 1286.82,692.91 1290.47,676.27 1250.30,676.27 1248.84,674.65 1252.33,657.20 1261.66,657.20 1259.23,668.16 1291.28,668.16 1294.69,653.96 1253.96,653.96Z M1246.25,682.76 1285.60,682.76 1283.98,690.07 1243.81,690.07Z" fill="#95989f" fill-rule="evenodd"/>
<path d="M1313.67,646.86 1339.85,646.86 1330.18,686.39 1321.70,686.39 1322.50,689.20 1326.50,695.70 1326.93,699.60 1317.60,699.60 1314.35,693.70 1307.45,699.60 1299.74,699.60 1300.55,695.70 1307.10,689.20 1309.89,686.39 1302.99,686.39Z M1318.74,656.19 1329.70,656.19 1329.60,657.30 1319.80,657.30 1311.40,686.39 1310.40,686.39Z M1329.00,657.30 1330.00,657.30 1321.90,686.39 1320.90,686.39Z M1357.06,647.46 1366.64,647.46 1366.60,655.00 1354.90,694.00 1352.50,698.20 1349.50,699.30 1327.60,699.30 1345.50,659.90 1339.29,659.64 1340.50,649.90 1356.50,649.90Z M1353.30,661.80 1346.60,689.40 1338.60,691.40Z" fill="#07080c" transform="translate(-1,1)"/>
<path d="M1313.67,646.86 1339.85,646.86 1330.18,686.39 1321.70,686.39 1322.50,689.20 1326.50,695.70 1326.93,699.60 1317.60,699.60 1314.35,693.70 1307.45,699.60 1299.74,699.60 1300.55,695.70 1307.10,689.20 1309.89,686.39 1302.99,686.39Z M1318.74,656.19 1329.70,656.19 1329.60,657.30 1319.80,657.30 1311.40,686.39 1310.40,686.39Z M1329.00,657.30 1330.00,657.30 1321.90,686.39 1320.90,686.39Z M1357.06,647.46 1366.64,647.46 1366.60,655.00 1354.90,694.00 1352.50,698.20 1349.50,699.30 1327.60,699.30 1345.50,659.90 1339.29,659.64 1340.50,649.90 1356.50,649.90Z M1353.30,661.80 1346.60,689.40 1338.60,691.40Z" fill="#95989f" fill-rule="evenodd"/>
<path d="M1377.31,653.52 1388.20,652.10 1380.63,659.20 1393.88,658.97 1375.20,681.20 1386.40,681.20 1385.20,686.90 1364.50,686.90 1374.94,669.62 1369.26,669.62 1371.63,660.63Z M1362.50,692.30 1382.40,692.30 1380.80,699.50 1359.50,699.50Z M1388.70,646.90 1427.00,646.90 1424.60,654.20 1387.70,654.20Z M1412.35,654.23 1424.99,654.23 1415.19,663.47 1421.82,667.25 1420.87,673.41 1411.88,673.41 1407.14,669.86 1401.93,673.41 1390.80,673.41 1391.50,667.00 1396.20,667.00Z M1388.80,676.30 1419.70,676.30 1418.10,683.20 1387.20,683.20Z M1398.60,683.20 1407.50,683.20 1405.50,692.60 1396.10,692.60Z M1384.30,692.60 1414.80,692.60 1413.20,699.50 1382.70,699.50Z" fill="#07080c" transform="translate(-1,1)"/>
<path d="M1377.31,653.52 1388.20,652.10 1380.63,659.20 1393.88,658.97 1375.20,681.20 1386.40,681.20 1385.20,686.90 1364.50,686.90 1374.94,669.62 1369.26,669.62 1371.63,660.63Z M1362.50,692.30 1382.40,692.30 1380.80,699.50 1359.50,699.50Z M1388.70,646.90 1427.00,646.90 1424.60,654.20 1387.70,654.20Z M1412.35,654.23 1424.99,654.23 1415.19,663.47 1421.82,667.25 1420.87,673.41 1411.88,673.41 1407.14,669.86 1401.93,673.41 1390.80,673.41 1391.50,667.00 1396.20,667.00Z M1388.80,676.30 1419.70,676.30 1418.10,683.20 1387.20,683.20Z M1398.60,683.20 1407.50,683.20 1405.50,692.60 1396.10,692.60Z M1384.30,692.60 1414.80,692.60 1413.20,699.50 1382.70,699.50Z" fill="#95989f" fill-rule="evenodd"/>
<text x="1186.1" y="700" font-size="11" fill="#b2b5be" stroke="#b2b5be" stroke-width="0.25" text-anchor="middle" clip-path="url(#c3)">2024</text>
<text x="1341.7" y="700" font-size="11" fill="#b2b5be" stroke="#b2b5be" stroke-width="0.25" text-anchor="middle" clip-path="url(#c3)">16</text>
<text x="1374.8" y="653.5" font-size="10.6" fill="#b2b5be" textLength="30.9" lengthAdjust="spacingAndGlyphs">60.000</text>
<g font-size="31" font-weight="bold" font-style="italic" fill="#0d3d48" stroke="#0d3d48" stroke-width="1.6" stroke-linejoin="round" transform="translate(1.2,1.3)">
<text x="1195.9" y="732.4" textLength="17.3" lengthAdjust="spacingAndGlyphs">z</text>
<text x="1222.4" y="732.4" textLength="15.5" lengthAdjust="spacingAndGlyphs">z</text>
<text x="1251.0" y="732.4" textLength="13.4" lengthAdjust="spacingAndGlyphs">r</text>
<text x="1275.3" y="732.4" textLength="12.1" lengthAdjust="spacingAndGlyphs">t</text>
<text x="1294.9" y="732.4" textLength="18.1" lengthAdjust="spacingAndGlyphs">0</text>
<text x="1329.1" y="732.4" textLength="12.1" lengthAdjust="spacingAndGlyphs">1</text>
<text x="1353.0" y="732.4" textLength="7.0" lengthAdjust="spacingAndGlyphs">.</text>
<text x="1372.5" y="732.4" textLength="17.5" lengthAdjust="spacingAndGlyphs">c</text>
<text x="1398.2" y="732.4" textLength="19.0" lengthAdjust="spacingAndGlyphs">n</text>
</g>
<g font-size="31" font-weight="bold" font-style="italic" fill="#187080" stroke="#187080" stroke-width="1.6" stroke-linejoin="round" transform="translate(0,0)">
<text x="1195.9" y="732.4" textLength="17.3" lengthAdjust="spacingAndGlyphs">z</text>
<text x="1222.4" y="732.4" textLength="15.5" lengthAdjust="spacingAndGlyphs">z</text>
<text x="1251.0" y="732.4" textLength="13.4" lengthAdjust="spacingAndGlyphs">r</text>
<text x="1275.3" y="732.4" textLength="12.1" lengthAdjust="spacingAndGlyphs">t</text>
<text x="1294.9" y="732.4" textLength="18.1" lengthAdjust="spacingAndGlyphs">0</text>
<text x="1329.1" y="732.4" textLength="12.1" lengthAdjust="spacingAndGlyphs">1</text>
<text x="1353.0" y="732.4" textLength="7.0" lengthAdjust="spacingAndGlyphs">.</text>
<text x="1372.5" y="732.4" textLength="17.5" lengthAdjust="spacingAndGlyphs">c</text>
<text x="1398.2" y="732.4" textLength="19.0" lengthAdjust="spacingAndGlyphs">n</text>
</g>
</svg></body></html>
